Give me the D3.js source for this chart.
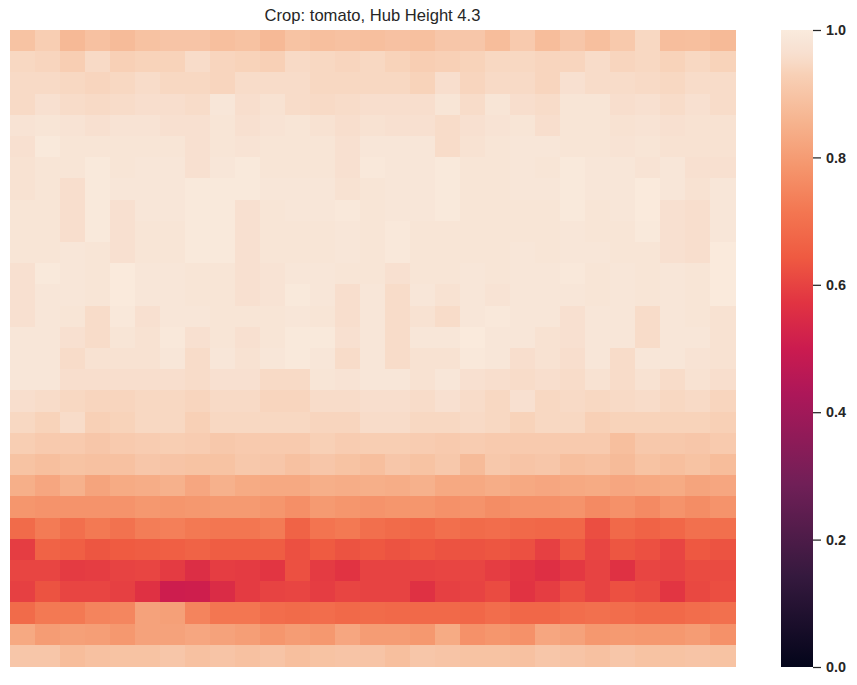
<!DOCTYPE html>
<html><head><meta charset="utf-8">
<script src="https://cdn.jsdelivr.net/npm/d3@7"></script>
<style>html,body{margin:0;padding:0;background:#fff}svg{display:block}</style>
</head><body><svg id="c" width="857" height="685"></svg>
<script>
const titleText = "Crop: tomato, Hub Height 4.3";
const colorbarTicks = [0, 0.2, 0.4, 0.6, 0.8, 1.0];
const rocketStops = [0,0.143,0.286,0.429,0.5,0.571,0.643,0.714,0.786,0.857,0.93,0.95,0.965,0.985,1];
const rocketColors = ["#03051a","#35193e","#701f57","#ad1759","#cb1b4f","#e13342","#ef5a41","#f37651","#f5966d","#f6b48f","#f8d0b6","#f8dac6","#f8e0d0","#f8e6d8","#faebdd"];
const row00=[.895,.925,.87,.89,.875,.893,.9,.9,.885,.893,.87,.895,.885,.89,.885,.892,.887,.905,.905,.88,.915,.88,.905,.885,.912,.945,.883,.885,.872];
const row01=[.945,.94,.925,.95,.93,.935,.935,.955,.94,.935,.93,.95,.945,.94,.945,.935,.925,.93,.935,.945,.945,.94,.94,.955,.94,.945,.935,.945,.935];
const row02=[.95,.95,.945,.94,.945,.955,.945,.945,.94,.955,.955,.955,.945,.945,.945,.945,.935,.96,.94,.95,.95,.94,.965,.955,.955,.95,.945,.955,.955];
const row03=[.95,.965,.955,.95,.955,.96,.96,.955,.985,.96,.97,.955,.95,.955,.96,.96,.96,.98,.955,.98,.96,.955,.98,.98,.96,.965,.955,.965,.955];
const row04=[.975,.98,.975,.965,.975,.975,.965,.965,.98,.965,.975,.98,.97,.96,.97,.965,.965,.955,.965,.975,.98,.96,.98,.98,.97,.975,.965,.97,.97];
const row05=[.965,.995,.98,.98,.98,.98,.98,.965,.98,.975,.98,.98,.98,.965,.985,.985,.985,.955,.97,.98,.985,.985,.98,.98,.975,.98,.97,.97,.97];
const row06=[.97,.98,.98,.995,.98,.985,.985,.965,.985,.995,.98,.98,.98,.965,.99,.985,.985,.995,.98,.98,.985,.98,.995,.985,.985,.975,.985,.965,.965];
const row07=[.97,.98,.96,.995,.985,.985,.985,.995,.995,.995,.985,.985,.985,.97,.98,.985,.985,.995,.98,.98,.985,.985,.995,.985,.985,.998,.985,.97,.985];
const row08=[.98,.98,.96,.995,.965,.985,.985,.995,.995,.965,.98,.985,.985,.99,.98,.985,.985,.995,.98,.98,.98,.98,.995,.98,.985,.998,.965,.96,.985];
const row09=[.98,.98,.96,.995,.965,.98,.98,.995,.995,.965,.98,.98,.98,.985,.98,.99,.98,.98,.98,.98,.98,.98,.985,.98,.98,.995,.965,.96,.985];
const row10=[.98,.98,.985,.98,.965,.98,.98,.995,.995,.965,.98,.98,.98,.985,.98,.99,.98,.98,.98,.98,.985,.98,.985,.985,.98,.98,.965,.96,.998];
const row11=[.965,.995,.985,.98,.998,.985,.985,.98,.98,.965,.975,.985,.985,.98,.98,.965,.98,.98,.985,.98,.985,.985,.99,.98,.985,.98,.985,.98,.998];
const row12=[.965,.985,.985,.98,.998,.985,.985,.98,.98,.965,.975,.995,.985,.96,.985,.955,.985,.97,.985,.975,.985,.985,.985,.98,.985,.98,.985,.98,.998];
const row13=[.965,.985,.98,.955,.99,.965,.985,.985,.98,.98,.98,.985,.98,.96,.985,.955,.97,.955,.985,.99,.985,.985,.965,.985,.985,.955,.985,.98,.97];
const row14=[.985,.985,.965,.955,.98,.97,.99,.965,.98,.965,.98,.995,.995,.965,.985,.955,.985,.985,.998,.985,.985,.97,.965,.985,.985,.955,.985,.985,.97];
const row15=[.985,.985,.955,.97,.97,.97,.985,.955,.985,.97,.985,.995,.985,.955,.985,.955,.97,.97,.99,.985,.96,.97,.96,.985,.955,.985,.985,.975,.97];
const row16=[.985,.985,.96,.96,.96,.96,.96,.955,.965,.965,.95,.95,.98,.975,.985,.985,.97,.985,.965,.96,.955,.96,.955,.97,.955,.97,.955,.97,.96];
const row17=[.96,.955,.945,.94,.94,.945,.945,.94,.95,.95,.94,.94,.955,.955,.96,.96,.955,.965,.955,.945,.965,.945,.95,.945,.95,.955,.945,.95,.94];
const row18=[.945,.935,.955,.93,.935,.945,.945,.93,.945,.945,.945,.945,.94,.94,.955,.955,.945,.945,.95,.945,.935,.945,.945,.93,.935,.935,.935,.935,.93];
const row19=[.925,.915,.915,.905,.915,.92,.925,.92,.91,.915,.915,.915,.93,.92,.925,.925,.92,.915,.92,.915,.915,.915,.915,.915,.885,.91,.91,.905,.915];
const row20=[.895,.885,.895,.89,.89,.905,.9,.895,.895,.91,.905,.89,.905,.895,.885,.905,.895,.91,.875,.91,.9,.905,.885,.89,.875,.895,.885,.895,.88];
const row21=[.845,.825,.85,.82,.835,.84,.85,.825,.85,.835,.83,.83,.845,.84,.845,.84,.85,.83,.83,.84,.83,.825,.83,.835,.825,.83,.835,.82,.825];
const row22=[.785,.78,.78,.78,.78,.79,.785,.79,.795,.795,.785,.77,.795,.785,.78,.785,.785,.775,.78,.765,.775,.775,.78,.76,.775,.76,.78,.765,.78];
const row23=[.685,.725,.695,.72,.705,.73,.735,.72,.715,.715,.725,.665,.71,.72,.695,.685,.675,.695,.685,.69,.68,.675,.675,.62,.68,.665,.675,.7,.695];
const row24=[.59,.665,.655,.635,.645,.65,.655,.665,.65,.65,.65,.625,.645,.63,.64,.63,.64,.63,.63,.635,.625,.595,.635,.605,.635,.625,.605,.64,.63];
const row25=[.605,.605,.585,.59,.6,.605,.585,.555,.59,.585,.575,.625,.585,.57,.6,.6,.6,.605,.605,.59,.575,.56,.58,.6,.565,.605,.6,.615,.615];
const row26=[.595,.63,.605,.605,.595,.565,.505,.51,.55,.585,.6,.605,.59,.605,.6,.6,.565,.595,.6,.615,.57,.59,.62,.6,.625,.615,.575,.61,.62];
const row27=[.685,.72,.72,.745,.75,.815,.81,.745,.715,.715,.69,.685,.69,.68,.685,.68,.68,.68,.675,.69,.675,.675,.69,.7,.69,.68,.68,.69,.7];
const row28=[.83,.8,.81,.805,.79,.815,.815,.825,.815,.805,.785,.8,.79,.825,.8,.8,.79,.835,.775,.785,.775,.825,.815,.79,.795,.79,.79,.8,.775];
const row29=[.905,.905,.88,.89,.895,.895,.905,.89,.9,.89,.9,.885,.895,.9,.9,.885,.905,.9,.895,.895,.89,.905,.9,.89,.905,.895,.895,.9,.895];
const rows=[row00,row01,row02,row03,row04,row05,row06,row07,row08,row09,row10,row11,row12,row13,row14,row15,row16,row17,row18,row19,row20,row21,row22,row23,row24,row25,row26,row27,row28,row29];

const FONT='"Liberation Sans", Arial, sans-serif', INK='#262626';
const svg=d3.select('#c');
const color=d3.scaleLinear().domain(rocketStops).range(rocketColors).interpolate(d3.interpolateRgb);
const x=d3.scaleBand().domain(d3.range(rows[0].length)).range([10,735]);
const y=d3.scaleBand().domain(d3.range(rows.length)).range([30,666]);

svg.append('g').attr('shape-rendering','crispEdges').selectAll('g').data(rows).join('g')
  .each(function(r,i){
    d3.select(this).selectAll('rect').data(r).join('rect')
      .attr('x',(d,j)=>x(j)).attr('y',y(i))
      .attr('width',x.bandwidth()+0.5).attr('height',y.bandwidth()+0.5)
      .attr('fill',d=>color(d));
  });

svg.append('text').attr('x',372.5).attr('y',21).attr('text-anchor','middle')
  .attr('font-family',FONT).attr('font-size',16.6).attr('fill',INK).text(titleText);

const cbY=d3.scaleLinear().domain([0,1]).range([667,30]);
const grad=svg.append('defs').append('linearGradient').attr('id','cb')
  .attr('x1',0).attr('y1',1).attr('x2',0).attr('y2',0);
grad.selectAll('stop').data(rocketStops).join('stop')
  .attr('offset',d=>d).attr('stop-color',(d,i)=>rocketColors[i]);
svg.append('rect').attr('x',781).attr('y',cbY(1)).attr('width',32)
  .attr('height',cbY(0)-cbY(1)).attr('fill','url(#cb)');

const axis=svg.append('g').attr('transform','translate(813,0)')
  .call(d3.axisRight(cbY).tickValues(colorbarTicks).tickFormat(d3.format('.1f')).tickSize(8).tickPadding(5));
axis.select('.domain').remove();
axis.selectAll('line').attr('stroke',INK).attr('stroke-width',1.25);
axis.selectAll('text').attr('font-family',FONT).attr('font-size',14.4).attr('font-weight','bold').attr('fill',INK);
</script></body></html>
